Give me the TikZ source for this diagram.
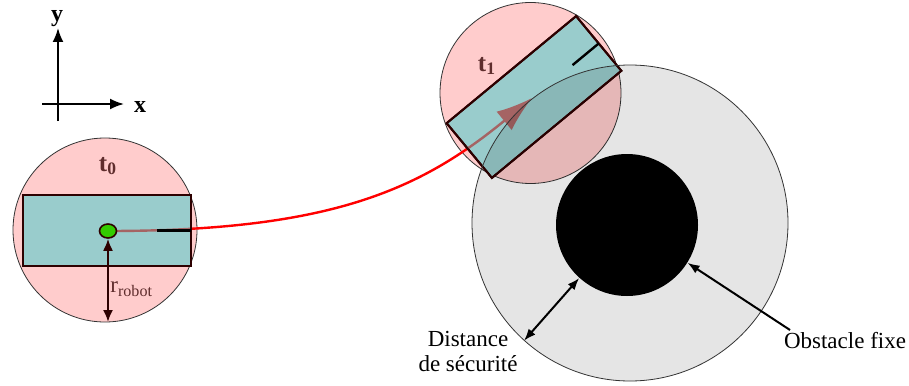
\documentclass[tikz,border=0pt]{standalone}
\usepackage{fontspec}
\setmainfont{Liberation Serif}
\usetikzlibrary{arrows.meta,shapes.geometric,calc}

\definecolor{zonepink}{RGB}{255,204,204}
\definecolor{robotteal}{RGB}{153,204,204}
\definecolor{robotedge}{RGB}{45,0,0}
\definecolor{headgreen}{RGB}{51,204,0}
\definecolor{trajbrown}{RGB}{165,100,100}
\definecolor{labelbrown}{RGB}{95,45,45}

\begin{document}
\begin{tikzpicture}[x=0.5pt,y=-0.5pt,
      font=\fontsize{11.5}{12.5}\selectfont,
      zone/.style={circle,draw=black!80,line width=0.4pt,fill=zonepink,inner sep=0pt,outer sep=0pt},
      robot/.style={rectangle,draw=robotedge,line width=1pt,fill=robotteal,minimum width=84pt,minimum height=35.5pt,inner sep=0pt,outer sep=0pt},
      edge/.style={draw=robotedge,line width=1pt},
      heading/.style={draw=black,line width=1.2pt},
      traj/.style={line width=1.2pt,-{Latex[length=18pt,width=12pt]}},
      arr/.style={-{Latex[length=6pt,width=4.5pt]},line width=1pt},
      tlabel/.style={font=\fontsize{12.5}{13}\selectfont\bfseries,text=labelbrown}
    ]
      \useasboundingbox (0,0) rectangle (909,385);
      \coordinate (yb) at (58,121);
      \coordinate (yt) at (58,28);
      \coordinate (xb) at (42,104);
      \coordinate (xt) at (124,104);
      \draw[arr,-{Latex[length=7pt,width=5.5pt]}] (yb) -- (yt);
      \draw[arr,-{Latex[length=7pt,width=5.5pt]}] (xb) -- (xt);
      \node[font=\fontsize{12}{13}\selectfont\bfseries] (ylab) at (57,19) {y};
      \node[font=\fontsize{12}{13}\selectfont\bfseries] (xlab) at (140,107) {x};

      \node[zone,minimum size=92pt] (z0) at (105,230) {};
      \node[zone,minimum size=90.5pt] (z1) at (530.5,93) {};
      \coordinate (p0) at (108,231);
      \coordinate (p1) at (532,98);
      \draw[traj,red] (p0) .. controls (330,231) and (420,190) .. (p1);
      \node[robot] (r0) at (107,230.5) {};
      \node[robot,rotate=39.6] (r1) at (534,97) {};
      \begin{scope}
        \clip (r0.north west) -- (r0.north east) -- (r0.south east) -- (r0.south west) -- cycle
              (r1.north west) -- (r1.north east) -- (r1.south east) -- (r1.south west) -- cycle;
        \draw[traj,trajbrown] (p0) .. controls (330,231) and (420,190) .. (p1);
      \end{scope}
      \draw[edge] (r0.north west) -- (r0.north east) -- (r0.south east) -- (r0.south west) -- cycle;
      \draw[edge] (r1.north west) -- (r1.north east) -- (r1.south east) -- (r1.south west) -- cycle;
      \draw[heading] (r0.east) -- ($(r0.east)!17pt!(r0.center)$);
      \draw[heading] (r1.east) -- ($(r1.east)!17pt!(r1.center)$);
      \node[ellipse,draw=robotedge,line width=0.8pt,fill=headgreen,minimum width=8.5pt,minimum height=7pt,inner sep=0pt] (g0) at (p0) {};
      \node[tlabel] (t0) at (108,166) {t\textsubscript{0}};
      \node[tlabel] (t1) at (487,66) {t\textsubscript{1}};
      \draw[arr,{Latex[length=6pt,width=5pt]}-{Latex[length=6pt,width=5pt]},draw=robotedge] (g0.south) -- (g0.south |- z0.south);
      \node[anchor=west,text=labelbrown,inner sep=0pt] (rlab) at (110,289) {r\textsubscript{robot}};

      \node[circle,draw=black!80,line width=0.4pt,fill=black,fill opacity=0.1,minimum size=158pt,inner sep=0pt] (safe) at (630,223) {};
      \node[circle,fill=black,minimum size=71pt,inner sep=0pt] (obs) at (627,225) {};
      \draw[arr,{Latex[length=6pt,width=4.5pt]}-{Latex[length=6pt,width=4.5pt]}] (safe.228) -- (obs.228);
      \coordinate (otail) at (790,330);
      \draw[arr] (otail) -- (obs.328);
      \node[align=center] (dlab) at (468,351) {Distance\\de sécurité};
      \node (olab) at (845,341) {Obstacle fixe};
    \end{tikzpicture}
\end{document}
